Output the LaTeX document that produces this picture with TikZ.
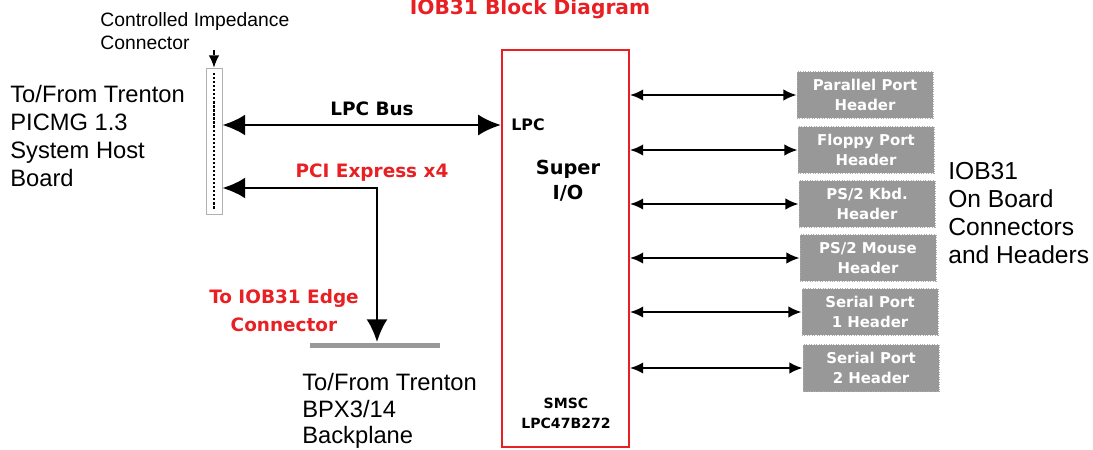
\documentclass[tikz,border=0pt]{standalone}
\usepackage{fontspec}
\setmainfont{Liberation Sans}
\newfontfamily\lblfont{DejaVu Sans}
\usetikzlibrary{arrows.meta}

\definecolor{iobred}{RGB}{232,32,36}
\definecolor{hdrgray}{RGB}{152,152,152}
\definecolor{stripgray}{RGB}{176,176,176}

\begin{document}
\begin{tikzpicture}[x=0.02cm,y=-0.02cm,
    hdr/.style={fill=hdrgray, draw=hdrgray!80, densely dotted, text=white, align=center,
      font=\lblfont\bfseries\fontsize{8.5}{11}\selectfont,
      minimum width=2.72cm, minimum height=0.94cm, inner sep=0pt},
    busline/.style={line width=1.7pt, {Latex[length=13pt,width=12pt]}-{Latex[length=13pt,width=12pt]}},
    hdrline/.style={line width=1.2pt, {Latex[length=7.5pt,width=6.5pt]}-{Latex[length=7.5pt,width=6.5pt]}},
    redlbl/.style={text=iobred, align=center, font=\lblfont\bfseries\fontsize{10.5}{15.9}\selectfont},
    blklbl/.style={align=center, font=\lblfont\bfseries\fontsize{10.5}{14}\selectfont},
    smlbl/.style={align=center, font=\lblfont\bfseries\fontsize{8}{11.3}\selectfont},
    bigtxt/.style={anchor=north west, align=left, inner sep=0pt, font=\fontsize{13.5}{15.9}\selectfont}]

    \useasboundingbox (0,0) rectangle (1093,450);

    % title
    \node[redlbl, font=\lblfont\bfseries\fontsize{11.5}{14}\selectfont] (title) at (530,9) {IOB31 Block Diagram};

    % connector on the host board side
    \node[anchor=north west, align=left, inner sep=0pt, font=\fontsize{11}{13}\selectfont] (imptxt) at (100,12) {Controlled Impedance\\Connector};
    \node[draw=stripgray, fill=white, minimum width=0.32cm, minimum height=2.92cm, inner sep=0pt] (conn) at (214,141) {};
    \draw[densely dotted, line width=1.3pt] ([yshift=-3pt]conn.north) -- ([yshift=3pt]conn.south);
    \coordinate (impend) at (214,50);
    \draw[densely dashed, line width=0.8pt, -{Latex[length=7pt,width=6pt]}] (impend) -- (conn.north);

    % text blocks
    \node[bigtxt] (host) at (10,85) {To/From Trenton\\PICMG 1.3\\System Host\\Board};
    \node[bigtxt, font=\fontsize{13.5}{15.2}\selectfont] (bpx) at (302,373) {To/From Trenton\\BPX3/14\\Backplane};
    \node[bigtxt, font=\fontsize{14}{15.9}\selectfont] (onboard) at (948,162) {IOB31\\On Board\\Connectors\\and Headers};

    % super i/o
    \node[draw=iobred, line width=1.1pt, minimum width=2.54cm, minimum height=7.94cm, inner sep=0pt] (sio) at (565.5,248.5) {};
    \node[blklbl, font=\lblfont\bfseries\fontsize{9}{11}\selectfont] (lpclbl) at (528,125) {LPC};
    \node[blklbl, font=\lblfont\bfseries\fontsize{11}{14}\selectfont] (siolbl) at (568,181) {Super\\I/O};
    \node[smlbl] (smsc) at (566,413) {SMSC\\LPC47B272};

    % lpc bus
    \draw[busline] (conn.east |- lpclbl) -- (sio.west |- lpclbl);
    \node[blklbl] (lpcbus) at (372,109) {LPC Bus};

    % pci express to the edge connector
    \node[fill=hdrgray, minimum width=2.6cm, minimum height=0.1cm, inner sep=0pt] (edge) at (375,345) {};
    \coordinate (pcibend) at (377,188);
    \draw[busline] (conn.east |- pcibend) -- (pcibend) -- (edge.north -| pcibend);
    \node[redlbl] (pcilbl) at (372,173) {PCI Express x4};
    \node[redlbl] (edgelbl) at (284,311) {To IOB31 Edge\\Connector};

    % headers
    \node[hdr] (h1) at (865,95) {Parallel Port\\Header};
    \node[hdr] (h2) at (866,150) {Floppy Port\\Header};
    \node[hdr] (h3) at (867,204) {PS/2 Kbd.\\Header};
    \node[hdr] (h4) at (868,258) {PS/2 Mouse\\Header};
    \node[hdr] (h5) at (870,312) {Serial Port\\1 Header};
    \node[hdr] (h6) at (871,368) {Serial Port\\2 Header};

    \foreach \h in {h1,h2,h3,h4,h5,h6}
    \draw[hdrline] (sio.east |- \h.west) -- (\h.west);

  \end{tikzpicture}
\end{document}
